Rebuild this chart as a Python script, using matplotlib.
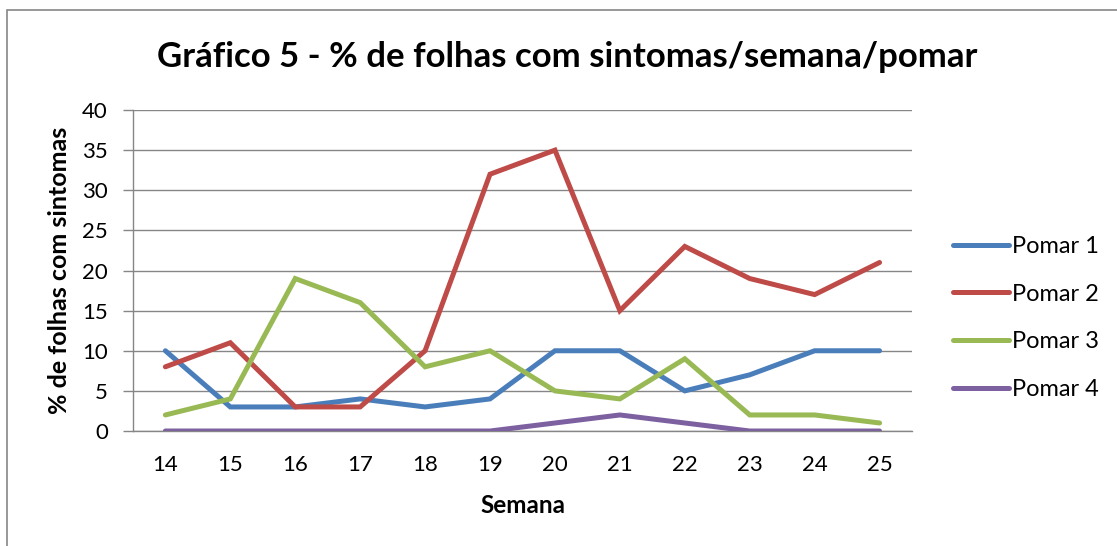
import matplotlib
matplotlib.use('Agg')
import matplotlib.pyplot as plt
from matplotlib.patches import Rectangle

semanas = ['14', '15', '16', '17', '18', '19', '20', '21', '22', '23', '24', '25']
pomar1 = [10, 3, 3, 4, 3, 4, 10, 10, 5, 7, 10, 10]
pomar2 = [8, 11, 3, 3, 10, 32, 35, 15, 23, 19, 17, 21]
pomar3 = [2, 4, 19, 16, 8, 10, 5, 4, 9, 2, 2, 1]
pomar4 = [0, 0, 0, 0, 0, 0, 1, 2, 1, 0, 0, 0]
nomes = ['Pomar 1', 'Pomar 2', 'Pomar 3', 'Pomar 4']
cores = ['#4a7ebb', '#be4b48', '#98b954', '#7d60a0']

plt.rcParams['font.family'] = ['Lato', 'DejaVu Sans']

fig = plt.figure(figsize=(11.17, 5.46), dpi=100)
# plot area from x=133..912 px, y=110..431 px
ax = fig.add_axes([0.119, 0.2106, 0.6975, 0.5879])

x = list(range(len(semanas)))
for serie, nome, cor in zip([pomar1, pomar2, pomar3, pomar4], nomes, cores):
    ax.plot(x, serie, color=cor, linewidth=3.6, label=nome,
            solid_capstyle='round', solid_joinstyle='miter', zorder=3)

ax.set_xlim(-0.5, len(semanas) - 0.5)
ax.set_ylim(0, 40)
ax.set_yticks(range(0, 41, 5))
ax.set_xticks(x)
ax.set_xticklabels(semanas)
ax.tick_params(axis='x', length=0, pad=17, labelsize=16)
ax.tick_params(axis='y', length=7, width=1, color='#868686', labelsize=16, pad=11)
ax.grid(axis='y', color='#868686', linewidth=1.0)
ax.set_axisbelow(True)
for s in ['top', 'right']:
    ax.spines[s].set_visible(False)
for s in ['left', 'bottom']:
    ax.spines[s].set_color('#868686')
    ax.spines[s].set_linewidth(1.0)

ax.set_xlabel('Semana', fontsize=17.5, fontweight='bold', labelpad=14)
ax.set_ylabel('% de folhas com sintomas', fontsize=18, fontweight='bold', labelpad=8)
fig.text(0.508, 0.896, 'Gráfico 5 - % de folhas com sintomas/semana/pomar', fontsize=25,
         fontweight='bold', ha='center', va='center')

ax.legend(loc='center left', bbox_to_anchor=(1.025, 0.352), frameon=False, fontsize=17,
          handlelength=2.4, labelspacing=1.13, handletextpad=0.1)

fig.patches.append(Rectangle((0.0063, -0.05), 1.1, 1.0317, transform=fig.transFigure,
                             fill=False, edgecolor='#868686', linewidth=1.2))

fig.savefig('out.png', dpi=100)
